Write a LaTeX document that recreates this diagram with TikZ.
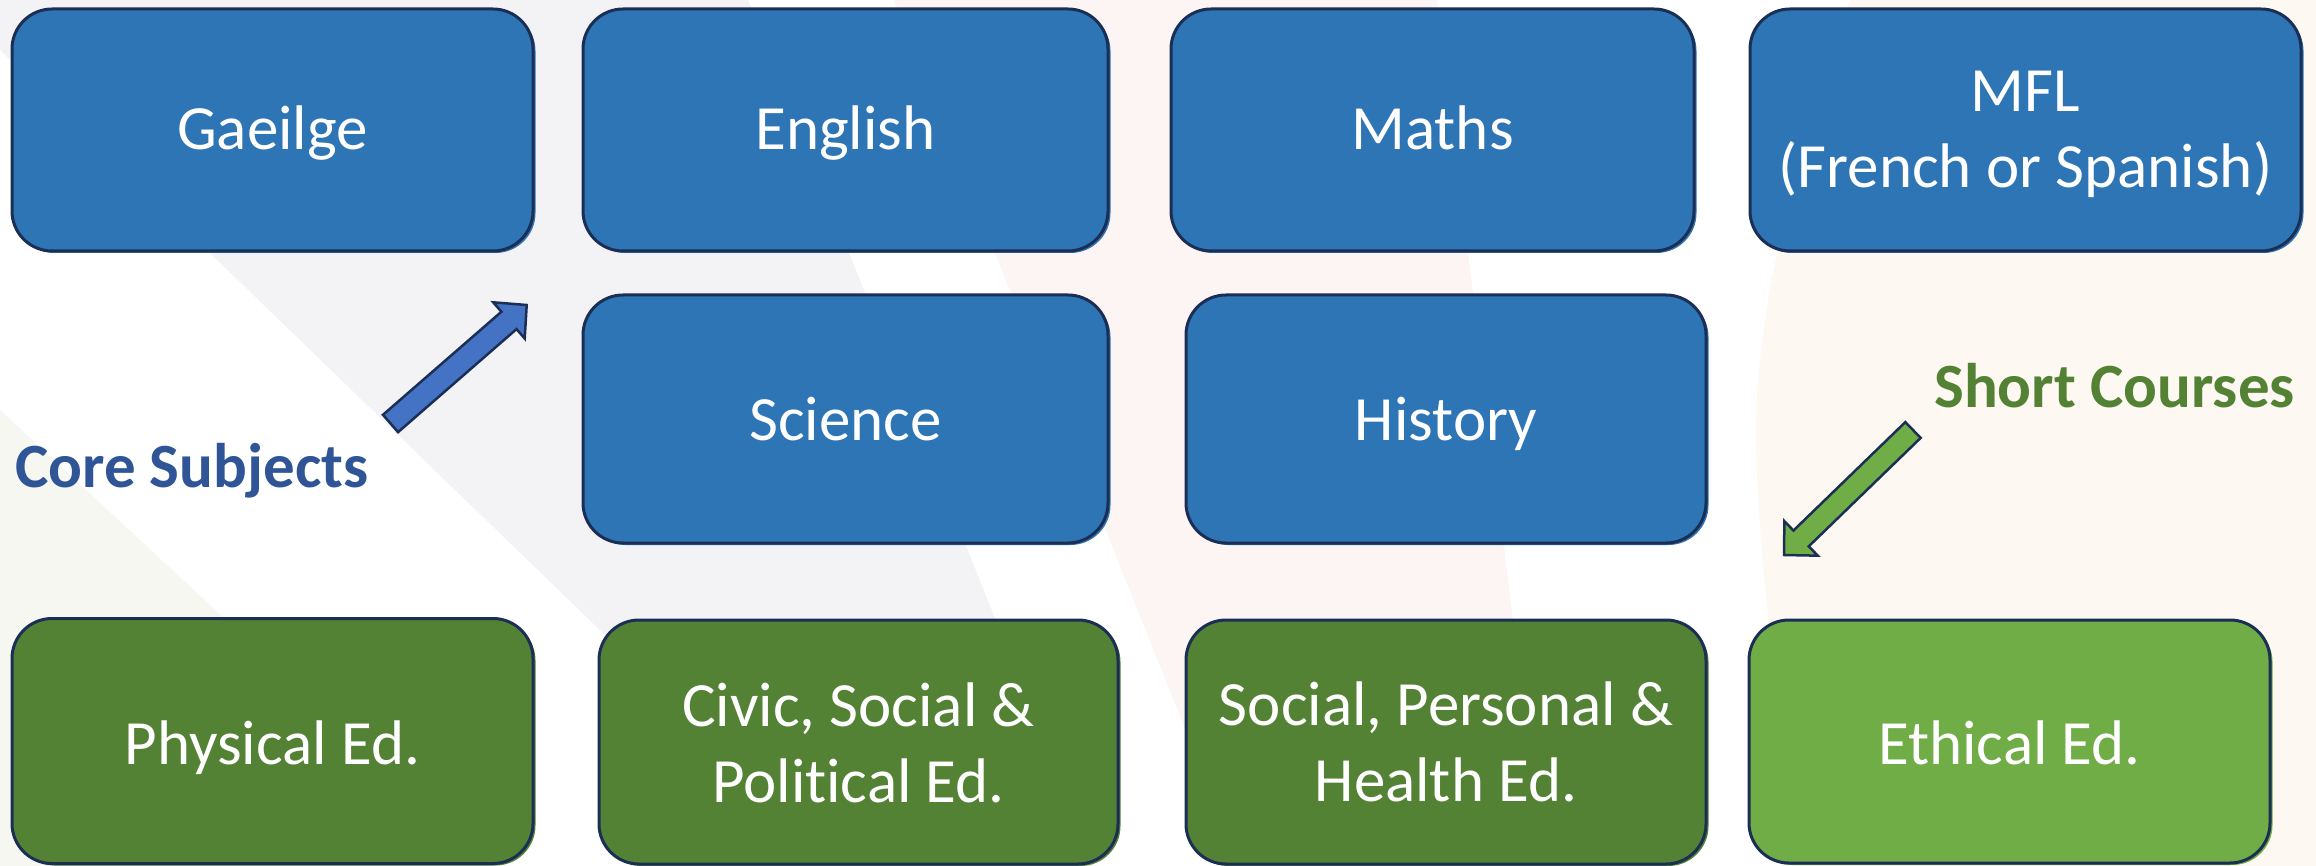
\documentclass[tikz,border=0pt]{standalone}
\usepackage{fontspec}
\setmainfont{Carlito}[Ligatures={NoCommon}]
\usetikzlibrary{calc}
\definecolor{boxblue}{HTML}{2E75B6}
\definecolor{dgreen}{HTML}{548235}
\definecolor{lgreen}{HTML}{70AD47}
\definecolor{navy}{HTML}{1B2F55}
\definecolor{arrblue}{HTML}{4472C4}
\definecolor{coreblue}{HTML}{2F5597}
\definecolor{bggray}{HTML}{F3F3F6}
\definecolor{bgpink}{HTML}{FCF5F3}
\definecolor{bgpeach}{HTML}{FDF8F2}
\definecolor{bggreen}{HTML}{F6F7F1}
\begin{document}
\begin{tikzpicture}[x=1pt,y=-1pt,
  card/.style={draw=navy, line width=3pt, rounded corners=40pt, inner sep=0pt, outer sep=0pt,
     preaction={fill=#1, transform canvas={shift={(2.5pt,-2pt)}}}, fill=#1},
  lbl/.style={text=white, font=\fontsize{63}{76}\selectfont, inner sep=0pt, anchor=base, align=center},
  callout/.style={font=\bfseries\fontsize{63}{76}\selectfont, inner sep=0pt, anchor=base west},
  blockarrow/.style={fill=#1, draw=navy, line width=2.5pt, line join=miter}
]
\useasboundingbox (0,0) rectangle (2316,866);
% background
\fill[white] (0,0) rectangle (2316,866);
\fill[bggray] (0,0) -- (748,0) -- (1094,866) -- (844,866) -- (0,50) -- cycle;
\fill[bggreen] (0,410) -- (491,866) -- (0,866) -- cycle;
\fill[bgpink] (894,0) -- (1437,0) -- (1543,866) -- (1240,866) -- cycle;
\fill[bgpeach] (1850,0) .. controls (1780,200) and (1750,350) .. (1757,470)
   .. controls (1762,600) and (1785,750) .. (1800,866) -- (2316,866) -- (2316,0) -- cycle;

% arrows
\coordinate (bt) at (390.5,423.5);
\coordinate (bh) at (526.7,305);
\coordinate (bn) at ($(bh)!23.5pt!(bt)$);
\path[blockarrow=arrblue]
 ($(bt)!11.5pt!90:(bh)$) -- ($(bn)!11.5pt!90:(bh)$) -- ($(bn)!24pt!90:(bh)$) -- (bh)
 -- ($(bn)!24pt!-90:(bh)$) -- ($(bn)!11.5pt!-90:(bh)$) -- ($(bt)!11.5pt!-90:(bh)$) -- cycle;

\coordinate (gt) at (1913,430);
\coordinate (gh) at (1784,555);
\coordinate (gn) at ($(gh)!23.8pt!(gt)$);
\path[blockarrow=lgreen]
 ($(gt)!11pt!90:(gh)$) -- ($(gn)!11pt!90:(gh)$) -- ($(gn)!24pt!90:(gh)$) -- (gh)
 -- ($(gn)!24pt!-90:(gh)$) -- ($(gn)!11pt!-90:(gh)$) -- ($(gt)!11pt!-90:(gh)$) -- cycle;

% boxes
\node[card=boxblue, minimum width=521pt, minimum height=242pt] (gae) at (272.5,130) {};
\node[card=boxblue, minimum width=525pt, minimum height=242pt] (eng) at (845.5,130) {};
\node[card=boxblue, minimum width=523pt, minimum height=242pt] (mat) at (1432.5,130) {};
\node[card=boxblue, minimum width=551pt, minimum height=242pt] (mfl) at (2025.5,130) {};
\node[card=boxblue, minimum width=525pt, minimum height=248pt] (sci) at (845.5,419) {};
\node[card=boxblue, minimum width=520pt, minimum height=248pt] (his) at (1446,419) {};
\node[card=dgreen, minimum width=521pt, minimum height=245pt] (phy) at (272.5,741) {};
\node[card=dgreen, minimum width=519pt, minimum height=244pt] (civ) at (858.5,742) {};
\node[card=dgreen, minimum width=520pt, minimum height=244pt] (soc) at (1446,742) {};
\node[card=lgreen, minimum width=521pt, minimum height=243pt] (eth) at (2009.5,741.5) {};

% labels
\node[lbl] (gaet) at ($(gae.center)+(0,20)$) {Gaeilge};
\node[lbl] (engt) at ($(eng.center)+(0,20)$) {English};
\node[lbl] (matt) at ($(mat.center)+(0,20)$) {Maths};
\node[lbl] (mflt) at ($(mfl.center)+(0,58)$) {MFL\\(French or Spanish)};
\node[lbl] (scit) at ($(sci.center)+(0,21)$) {Science};
\node[lbl] (hist) at ($(his.center)+(0,21)$) {History};
\node[lbl] (phyt) at ($(phy.center)+(0,23)$) {Physical Ed.};
\node[lbl] (civt) at ($(civ.center)+(0,60)$) {Civic, Social \&\\Political Ed.};
\node[lbl] (soct) at ($(soc.center)+(0,59)$) {Social, Personal \&\\Health Ed.};
\node[lbl] (etht) at ($(eth.center)+(0,23)$) {Ethical Ed.};

\node[callout, text=coreblue] (core) at (15,487) {Core Subjects};
\node[callout, text=dgreen] (short) at (1934,408) {Short Courses};
\end{tikzpicture}
\end{document}
